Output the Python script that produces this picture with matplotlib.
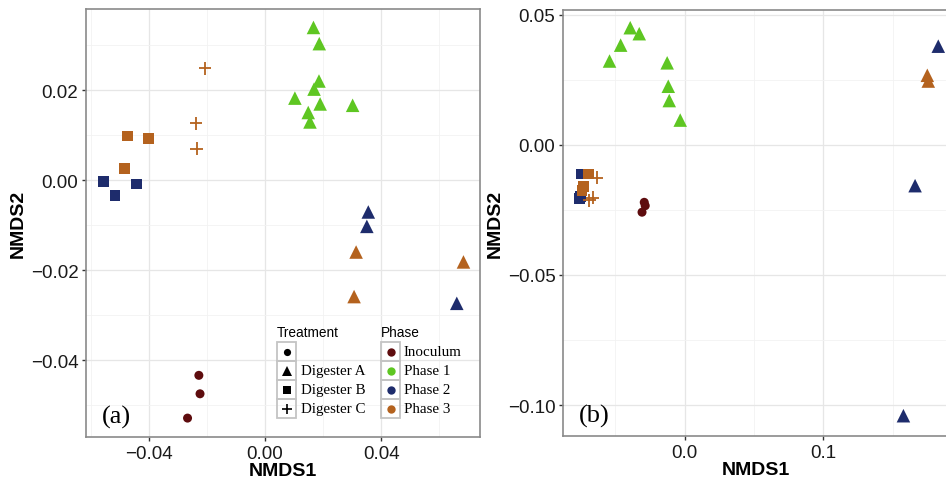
import matplotlib
matplotlib.use("Agg")
import matplotlib.pyplot as plt
from matplotlib.lines import Line2D
from matplotlib.patches import Rectangle
from matplotlib.ticker import MultipleLocator

# ---- data ----
# panel (a)
a_x = [0.0167, 0.0187, 0.0186, 0.0169, 0.0103, 0.0190, 0.0149, 0.0155, 0.0302,
       0.0356, 0.0351, 0.0661,
       0.0314, 0.0307, 0.0684,
       -0.0207, -0.0238, -0.0236,
       -0.0474, -0.0401, -0.0485,
       -0.0556, -0.0517, -0.0444,
       -0.0228, -0.0224, -0.0267]
a_y = [0.0340, 0.0304, 0.0221, 0.0203, 0.0183, 0.0170, 0.0151, 0.0130, 0.0167,
       -0.0070, -0.0102, -0.0273,
       -0.0159, -0.0258, -0.0181,
       0.0249, 0.0127, 0.0071,
       0.0099, 0.0093, 0.0027,
       -0.0002, -0.0033, -0.0008,
       -0.0433, -0.0474, -0.0528]
a_phase = ["Phase 1"] * 9 + ["Phase 2"] * 3 + ["Phase 3"] * 3 + ["Phase 3"] * 3 \
    + ["Phase 3"] * 3 + ["Phase 2"] * 3 + ["Inoculum"] * 3
a_treat = ["A"] * 15 + ["C"] * 3 + ["B"] * 6 + ["I"] * 3

# panel (b)
b_x = [-0.0391, -0.0326, -0.0460, -0.0540, -0.0125, -0.0117, -0.0110, -0.0031,
       0.1827, 0.1660, 0.1576,
       0.1748, 0.1755,
       -0.0745, -0.0755, -0.0750,
       -0.0691, -0.0727, -0.0738,
       -0.0630, -0.0662, -0.0686,
       -0.0290, -0.0283, -0.0306]
b_y = [0.0450, 0.0427, 0.0383, 0.0322, 0.0315, 0.0225, 0.0170, 0.0095,
       0.0379, -0.0157, -0.1041,
       0.0267, 0.0245,
       -0.0112, -0.0205, -0.0200,
       -0.0112, -0.0159, -0.0176,
       -0.0127, -0.0204, -0.0213,
       -0.0221, -0.0234, -0.0259]
b_phase = ["Phase 1"] * 8 + ["Phase 2"] * 3 + ["Phase 3"] * 2 + ["Phase 2"] * 3 \
    + ["Phase 3"] * 3 + ["Phase 3"] * 3 + ["Inoculum"] * 3
b_treat = ["A"] * 13 + ["B"] * 6 + ["C"] * 3 + ["I"] * 3

phase_colors = {"Inoculum": "#5E0C0E", "Phase 1": "#5EC622",
                "Phase 2": "#1E2C6C", "Phase 3": "#B4621E"}
treat_markers = {"I": ("o", 42), "A": ("^", 95), "B": ("s", 60), "C": ("+", 85)}
treat_labels = [("I", ""), ("A", "Digester A"), ("B", "Digester B"), ("C", "Digester C")]

W, H = 946, 481


def px_box(x0, y0, x1, y1):
    return [x0 / W, 1 - y1 / H, (x1 - x0) / W, (y1 - y0) / H]


def draw_panel(ax, xs, ys, phases, treats):
    for t, (m, s) in treat_markers.items():
        idx = [i for i, tt in enumerate(treats) if tt == t]
        if not idx:
            continue
        ax.scatter([xs[i] for i in idx], [ys[i] for i in idx], marker=m, s=s,
                   c=[phase_colors[phases[i]] for i in idx],
                   linewidths=1.3 if m == "+" else 0, zorder=3)
    ax.grid(True, which="major", color="#E6E6E6", lw=0.9, zorder=0)
    ax.grid(True, which="minor", color="#F2F2F2", lw=0.6, zorder=0)
    ax.set_axisbelow(True)
    for sp in ax.spines.values():
        sp.set_color("#8A8A8A")
        sp.set_linewidth(1.2)
    ax.tick_params(which="major", length=3, width=1, color="#333333",
                   labelsize=13.5, labelcolor="#1a1a1a", pad=2.5)
    ax.tick_params(which="minor", length=0)
    ax.set_xlabel("NMDS1", fontsize=14, fontweight="bold", labelpad=0)
    ax.set_ylabel("NMDS2", fontsize=14, fontweight="bold", labelpad=3)


plt.rcParams["font.family"] = ["Liberation Sans", "DejaVu Sans"]
fig = plt.figure(figsize=(W / 100, H / 100), dpi=100)

ax1 = fig.add_axes(px_box(86, 10, 480, 438))
draw_panel(ax1, a_x, a_y, a_phase, a_treat)
ax1.set_xlim(-0.0617, 0.0741)
ax1.set_ylim(-0.0570, 0.0381)
ax1.xaxis.set_major_locator(MultipleLocator(0.04))
ax1.xaxis.set_minor_locator(MultipleLocator(0.02))
ax1.yaxis.set_major_locator(MultipleLocator(0.02))
ax1.yaxis.set_minor_locator(MultipleLocator(0.01))
ax1.xaxis.set_major_formatter(lambda v, p: f"{v:.2f}".replace("-", "\u2212"))
ax1.yaxis.set_major_formatter(lambda v, p: f"{v:.2f}".replace("-", "\u2212"))
ax1.text(0.04, 0.02, "(a)", transform=ax1.transAxes, fontsize=19,
         family=["Liberation Serif", "DejaVu Serif"], va="bottom", ha="left")

ax2 = fig.add_axes(px_box(563, 11, 948, 437))
draw_panel(ax2, b_x, b_y, b_phase, b_treat)
ax2.set_xlim(-0.0875, 0.1897)
ax2.set_ylim(-0.1119, 0.0518)
ax2.xaxis.set_major_locator(MultipleLocator(0.1))
ax2.xaxis.set_minor_locator(MultipleLocator(0.05))
ax2.yaxis.set_major_locator(MultipleLocator(0.05))
ax2.yaxis.set_minor_locator(MultipleLocator(0.025))
ax2.xaxis.set_major_formatter(lambda v, p: f"{v:.1f}".replace("-", "\u2212"))
ax2.yaxis.set_major_formatter(lambda v, p: f"{v:.2f}".replace("-", "\u2212"))
ax2.text(0.04, 0.02, "(b)", transform=ax2.transAxes, fontsize=19,
         family=["Liberation Serif", "DejaVu Serif"], va="bottom", ha="left")

# ---- legends (ggplot style key boxes) ----
def fx(x):
    return x / W


def fy(y):
    return 1 - y / H


serif = ["Liberation Serif", "DejaVu Serif"]
key = 19
top = 343
fig.text(fx(277), fy(333), "Treatment", fontsize=9.8, va="center", ha="left")
fig.text(fx(381), fy(333), "Phase", fontsize=9.8, va="center", ha="left")
for k, (t, lab) in enumerate(treat_labels):
    y0 = top + k * key
    fig.add_artist(Rectangle((fx(277), fy(y0 + key)), key / W, key / H,
                             transform=fig.transFigure, fill=False,
                             edgecolor="#C4C4C4", lw=1.3))
    m, s = treat_markers[t]
    ms = s ** 0.5 * 0.8
    fig.add_artist(Line2D([fx(277 + key / 2)], [fy(y0 + key / 2)], marker=m,
                          markersize=ms, color="black", mew=1.2 if m == "+" else 0,
                          transform=fig.transFigure))
    fig.text(fx(301), fy(y0 + key / 2), lab, fontsize=10.8, family=serif,
             va="center", ha="left")
for k, ph in enumerate(phase_colors):
    y0 = top + k * key
    fig.add_artist(Rectangle((fx(381), fy(y0 + key)), key / W, key / H,
                             transform=fig.transFigure, fill=False,
                             edgecolor="#C4C4C4", lw=1.3))
    fig.add_artist(Line2D([fx(381 + key / 2)], [fy(y0 + key / 2)], marker="o",
                          markersize=6, color=phase_colors[ph], mew=0,
                          transform=fig.transFigure))
    fig.text(fx(404), fy(y0 + key / 2), ph, fontsize=10.8, family=serif,
             va="center", ha="left")

fig.savefig("out.png", dpi=100)
